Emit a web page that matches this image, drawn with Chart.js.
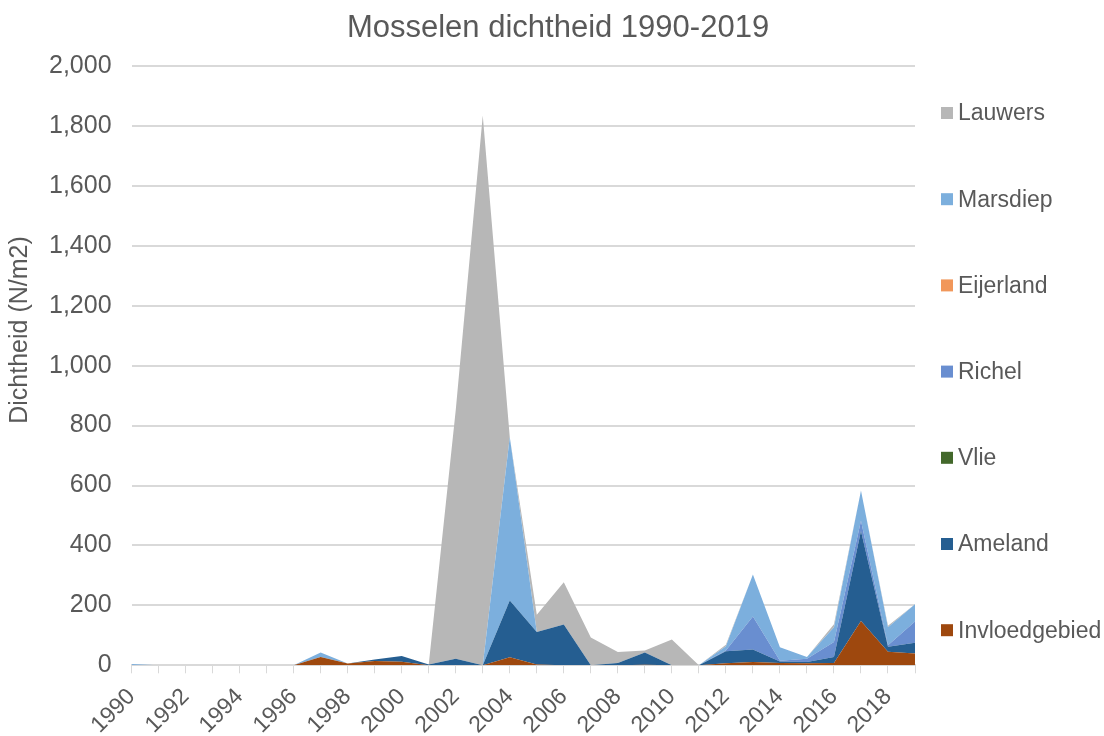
<!DOCTYPE html>
<html>
<head>
<meta charset="utf-8">
<script src="https://cdn.jsdelivr.net/npm/chart.js@4"></script>
<style>
  html, body { margin: 0; padding: 0; background: #fff; }
  #wrap { width: 1104px; height: 736px; }
</style>
</head>
<body>
<div id="wrap"><canvas id="chart"></canvas></div>
<script>
const years = [];
for (let y = 1990; y <= 2019; y++) years.push(String(y));

// values in N/m2, 1990..2019
const invloedgebied = [0,0,0,0,0,0,0,28,6,14,12,0,0,0,27,3,0,0,0,2,0,0,7,11,8,7,8,148,45,39];
const ameland       = [0,0,0,0,0,0,0,0,0,5,19,3,22,0,189,108,136,0,8,41,0,0,40,42,5,4,20,300,17,36];
const vlie          = [0,0,0,0,0,0,0,0,0,0,0,0,0,0,0,0,0,0,0,0,0,0,0,0,0,0,0,0,0,0];
const richel        = [0,0,0,0,0,0,0,0,0,0,0,0,0,0,0,0,0,0,0,0,0,0,2,110,2,11,50,34,5,71];
const eijerland     = [0,0,0,0,0,0,0,0,0,0,0,0,0,0,0,0,0,0,0,0,0,0,0,0,0,0,0,0,0,0];
const marsdiep      = [4,0,0,0,0,0,0,15,0,0,0,0,0,0,546,0,0,0,0,0,0,0,15,140,45,6,49,101,60,58];
const lauwers       = [0,0,0,0,0,0,0,0,0,0,0,0,830,1835,0,58,141,93,36,6,86,0,5,0,0,0,10,0,5,0];

const yTicks = [0, 200, 400, 600, 800, 1000, 1200, 1400, 1600, 1800, 2000];

const titleText = 'Mosselen dichtheid 1990-2019';
const yTitleText = 'Dichtheid (N/m2)';

const textColor = '#595959';
const gridColor = '#d9d9d9';
const fontFamily = "'Liberation Sans', Arial, sans-serif";

function area(label, data, color, fill) {
    return {
        label: label,
        data: data,
        backgroundColor: color,
        borderColor: color,
        borderWidth: 0,
        pointRadius: 0,
        pointHoverRadius: 0,
        fill: fill,
        tension: 0
    };
}

// Excel style furniture: title centred on the whole picture, axis title
// a bit above the middle, and a wide one-column legend on the right
const excelFrame = {
    id: 'excelFrame',
    afterDraw(chart) {
        const ctx = chart.ctx;
        const area = chart.chartArea;
        const sets = chart.data.datasets;
        ctx.save();
        ctx.fillStyle = textColor;
        ctx.textBaseline = 'middle';

        ctx.font = "31px " + fontFamily;
        ctx.textAlign = 'center';
        ctx.fillText(titleText, 558, 28);

        ctx.save();
        ctx.translate(20, 330);
        ctx.rotate(-Math.PI / 2);
        ctx.font = "25px " + fontFamily;
        ctx.fillText(yTitleText, 0, 0);
        ctx.restore();

        const x = area.right + 26;
        const step = 86.2;
        let y = area.top + 47;
        ctx.font = "23px " + fontFamily;
        ctx.textAlign = 'left';
        for (let i = sets.length - 1; i >= 0; i--) {
            ctx.fillStyle = sets[i].backgroundColor;
            ctx.fillRect(x, y - 6, 12, 12);
            ctx.fillStyle = textColor;
            ctx.fillText(sets[i].label, x + 17, y + 1);
            y += step;
        }
        ctx.restore();
    }
};

new Chart(document.getElementById('chart'), {
    type: 'line',
    data: {
        labels: years,
        datasets: [
            area('Invloedgebied', invloedgebied, '#9e480e', 'origin'),
            area('Ameland', ameland, '#255e91', '-1'),
            area('Vlie', vlie, '#43682b', '-1'),
            area('Richel', richel, '#698ed0', '-1'),
            area('Eijerland', eijerland, '#f1975a', '-1'),
            area('Marsdiep', marsdiep, '#7cafdd', '-1'),
            area('Lauwers', lauwers, '#b7b7b7', '-1')
        ]
    },
    plugins: [excelFrame],
    options: {
        responsive: true,
        maintainAspectRatio: false,
        animation: false,
        layout: { padding: { left: 29, right: 189, top: 66, bottom: -13 } },
        plugins: {
            title: { display: false },
            legend: { display: false },
            tooltip: { enabled: false }
        },
        scales: {
            x: {
                offset: false,
                grid: {
                    display: true,
                    drawOnChartArea: false,
                    drawTicks: true,
                    tickLength: 8,
                    color: gridColor
                },
                border: { display: true, color: gridColor, width: 2 },
                ticks: {
                    autoSkip: false,
                    minRotation: 45,
                    maxRotation: 45,
                    padding: 10,
                    color: textColor,
                    font: { family: fontFamily, size: 23 },
                    callback: function (val, i) { return i % 2 === 0 ? years[i] : ''; }
                }
            },
            y: {
                stacked: true,
                min: 0,
                max: 2000,
                afterBuildTicks: function (axis) {
                    axis.ticks = yTicks.map(v => ({ value: v }));
                },
                grid: { color: gridColor, lineWidth: 2, drawTicks: false },
                border: { display: false },
                ticks: {
                    color: textColor,
                    padding: 20,
                    font: { family: fontFamily, size: 25 },
                    callback: function (v) { return v.toLocaleString('en-US'); }
                }
            }
        }
    }
});
</script>
</body>
</html>
